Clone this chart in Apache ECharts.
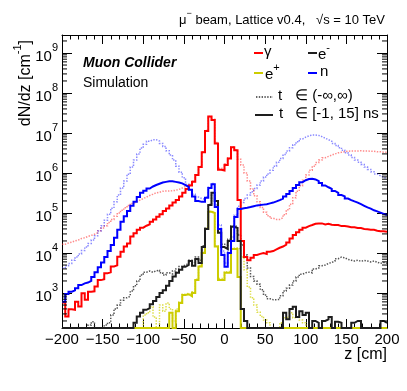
<!DOCTYPE html>
<html><head><meta charset="utf-8">
<script src="https://cdn.jsdelivr.net/npm/echarts@6/dist/echarts.min.js"></script>
<style>html,body{margin:0;padding:0;background:#fff}#c{width:407px;height:391px}</style>
</head><body><div id="c"></div>
<script>
// ---- axis setup ----
const Z_MIN = -200, Z_MAX = 200, BIN_WIDTH = 4;
const Y_MIN = 133.35, Y_MAX = 2.818e9;
const xTickInterval = 50;

// ---- data: dN/dz per 4 cm bin, bins from z=-200 to z=200 (0 = empty bin) ----
const gammaInTime = [
 5.8e2,2.6e2,3.9e2,3.8e2,6.0e2,4.6e2,9.8e2,6.8e2,1.07e3,1.1e3,
 1.45e3,2.1e3,2.2e3,3.1e3,3.3e3,4.6e3,4.9e3,8.1e3,1.07e4,1.45e4,
 1.74e4,2.6e4,3.1e4,3.8e4,4.3e4,4.8e4,5.2e4,6.0e4,6.9e4,8.1e4,
 9.3e4,1.12e5,1.29e5,1.55e5,1.82e5,2.1e5,2.6e5,3.2e5,4.0e5,4.9e5,
 6.0e5,8.9e5,1.41e6,3.3e6,1.12e7,2.6e7,2.1e7,5.5e6,1.2e6,1.15e6,
 1.58e6,2.3e6,4.4e6,3.7e6,2.1e5,2.0e4,7.9e3,6.6e3,7.6e3,8.9e3,
 9.5e3,1.0e4,9.5e3,1.07e4,1.12e4,1.23e4,1.35e4,1.45e4,1.62e4,1.82e4,
 2.3e4,2.8e4,3.3e4,3.8e4,4.3e4,4.7e4,5.0e4,5.4e4,5.5e4,5.5e4,
 5.2e4,5.4e4,5.1e4,5.0e4,5.0e4,4.7e4,4.7e4,4.6e4,4.4e4,4.4e4,
 4.2e4,4.2e4,4.0e4,3.9e4,3.8e4,3.8e4,3.6e4,3.5e4,3.5e4,3.4e4];
const gammaAll = [
 1.66e4,1.78e4,1.86e4,2.0e4,2.1e4,2.3e4,2.4e4,2.6e4,2.75e4,2.95e4,
 3.2e4,3.6e4,4.2e4,4.8e4,5.8e4,6.9e4,8.3e4,1.0e5,1.17e5,1.35e5,
 1.55e5,1.74e5,1.9e5,2.1e5,2.3e5,2.5e5,2.75e5,2.95e5,3.2e5,3.3e5,
 3.5e5,3.55e5,3.55e5,3.6e5,3.7e5,3.9e5,4.2e5,4.6e5,5.0e5,5.5e5,
 6.3e5,9.1e5,1.45e6,3.4e6,1.15e7,2.6e7,2.2e7,5.8e6,1.32e6,1.26e6,
 1.7e6,2.4e6,4.5e6,3.8e6,2.2e6,1.58e6,1.0e6,6.3e5,4.0e5,2.7e5,
 1.9e5,1.38e5,1.05e5,8.5e4,7.4e4,6.9e4,6.9e4,7.6e4,9.1e4,1.2e5,
 1.66e5,2.4e5,3.5e5,4.8e5,6.6e5,8.9e5,1.17e6,1.48e6,1.82e6,2.1e6,
 2.4e6,2.6e6,2.8e6,3.0e6,3.2e6,3.3e6,3.4e6,3.5e6,3.55e6,3.55e6,
 3.55e6,3.6e6,3.55e6,3.55e6,3.5e6,3.5e6,3.4e6,3.4e6,3.3e6,3.3e6];
const nInTime = [
 6.0e2,9.5e2,1.07e3,1.17e3,1.32e3,1.58e3,1.74e3,1.82e3,2.0e3,2.5e3,
 3.3e3,4.4e3,5.8e3,7.9e3,1.12e4,1.58e4,2.4e4,3.8e4,6.0e4,8.3e4,
 1.12e5,1.51e5,1.9e5,2.5e5,3.2e5,3.6e5,4.1e5,4.6e5,5.0e5,5.4e5,
 5.8e5,6.0e5,6.2e5,6.2e5,6.0e5,5.8e5,5.5e5,5.0e5,4.5e5,3.8e5,
 2.6e5,2.0e5,1.9e5,1.9e5,2.4e5,4.2e5,5.2e5,1.41e5,4.0e4,8.9e3,
 4.5e3,1.0e4,2.0e4,7.9e4,1.26e5,1.32e5,1.35e5,1.41e5,1.48e5,1.55e5,
 1.58e5,1.62e5,1.66e5,1.74e5,1.82e5,1.95e5,2.1e5,2.3e5,2.6e5,3.0e5,
 3.55e5,4.2e5,5.0e5,5.9e5,6.6e5,7.1e5,7.2e5,6.9e5,6.3e5,5.6e5,
 4.9e5,4.4e5,4.0e5,3.55e5,3.2e5,2.8e5,2.6e5,2.3e5,2.1e5,1.95e5,
 1.82e5,1.66e5,1.51e5,1.38e5,1.29e5,1.17e5,1.1e5,1.02e5,9.5e4,8.9e4];
const nAll = [
 4.2e3,4.8e3,5.5e3,6.6e3,7.9e3,9.5e3,1.15e4,1.41e4,1.74e4,2.1e4,
 2.7e4,3.55e4,4.8e4,6.6e4,9.3e4,1.32e5,1.9e5,2.8e5,4.2e5,6.3e5,
 9.3e5,1.41e6,2.1e6,3.0e6,4.2e6,5.2e6,6.2e6,6.8e6,6.8e6,6.3e6,
 5.5e6,4.6e6,3.6e6,2.8e6,2.1e6,1.48e6,1.05e6,7.6e5,5.2e5,3.8e5,
 2.95e5,2.5e5,2.3e5,2.2e5,2.5e5,4.4e5,5.5e5,1.58e5,5.0e4,1.12e4,
 5.6e3,1.26e4,2.5e4,8.9e4,1.48e5,1.82e5,2.3e5,2.8e5,3.4e5,4.1e5,
 5.0e5,6.3e5,7.9e5,9.5e5,1.17e6,1.48e6,1.86e6,2.3e6,2.9e6,3.55e6,
 4.3e6,5.1e6,6.0e6,7.1e6,7.9e6,8.5e6,8.9e6,8.9e6,8.7e6,8.1e6,
 7.4e6,6.8e6,6.2e6,5.5e6,4.9e6,4.3e6,3.7e6,3.2e6,2.8e6,2.45e6,
 2.1e6,1.86e6,1.62e6,1.41e6,1.23e6,1.07e6,9.5e5,8.5e5,7.8e5,7.2e5];
const eMinusInTime = [
 0,0,0,0,0,0,0,0,0,0,
 0,0,0,0,0,0,0,0,0,0,
 0,0,1.8e2,2.6e2,3.2e2,3.8e2,4.2e2,5.2e2,6.3e2,7.9e2,
 1.0e3,1.17e3,1.51e3,2.0e3,2.6e3,3.2e3,3.8e3,4.5e3,5.0e3,6.3e3,
 4.8e3,7.1e3,5.6e3,1.41e4,4.0e4,1.58e5,3.2e5,2.0e5,3.2e4,1.41e4,
 1.26e4,2.0e4,4.5e4,4.2e4,2.0e4,4.0e2,2.0e2,0,0,0,
 0,0,0,0,0,0,0,0,3.2e2,2.2e2,
 4.0e2,4.5e2,2.5e2,3.5e2,2.8e2,3.2e2,0,2.0e2,1.8e2,0,
 2.0e2,2.2e2,2.5e2,0,1.9e2,1.8e2,0,0,0,1.8e2,
 2.0e2,2.0e2,0,0,0,0,0,0,2.0e2,1.8e2];
const eMinusAll = [
 0,0,0,0,0,0,0,0,1.58e2,1.9e2,
 0,0,0,1.58e2,1.8e2,2.8e2,4.0e2,5.0e2,6.6e2,7.6e2,
 8.3e2,1.12e3,1.51e3,2.0e3,2.8e3,3.3e3,3.55e3,3.3e3,3.6e3,3.7e3,
 3.2e3,2.8e3,3.2e3,3.0e3,3.55e3,4.0e3,4.6e3,5.0e3,5.5e3,6.6e3,
 5.8e3,7.9e3,6.6e3,1.51e4,4.2e4,1.62e5,3.2e5,2.0e5,3.55e4,1.66e4,
 1.58e4,2.2e4,4.8e4,4.6e4,2.8e4,1.58e4,8.9e3,4.2e3,2.6e3,2.0e3,
 1.66e3,1.2e3,8.9e2,7.2e2,6.8e2,6.8e2,6.9e2,8.5e2,1.12e3,1.32e3,
 1.58e3,2.0e3,2.5e3,2.95e3,3.2e3,3.3e3,3.2e3,4.0e3,4.2e3,4.8e3,
 5.0e3,5.5e3,5.8e3,6.3e3,7.2e3,7.9e3,7.6e3,6.9e3,6.6e3,6.3e3,
 6.6e3,6.2e3,6.5e3,6.3e3,6.0e3,6.3e3,5.9e3,5.5e3,5.8e3,5.5e3];
const ePlusInTime = [
 0,0,0,0,0,0,0,0,0,0,
 0,0,0,0,0,0,0,0,0,0,
 0,0,0,0,0,0,0,0,0,0,
 0,0,0,3.2e2,0,3.5e2,5.6e2,8.9e2,9.3e2,8.3e2,
 1.0e3,2.1e3,4.6e3,1.0e4,4.0e4,1.07e5,1.0e5,1.45e4,2.1e3,2.1e3,
 3.2e3,3.2e3,1.26e4,1.26e4,2.5e3,0,0,0,0,0,
 0,0,0,0,0,0,0,0,0,0,
 0,0,0,0,0,0,0,0,0,0,
 0,0,0,0,0,0,0,0,0,0,
 0,0,0,0,0,0,0,0,0,0];
const ePlusAll = [
 0,0,0,0,0,0,0,0,0,0,
 0,0,0,0,0,0,0,0,0,0,
 0,0,0,0,0,2.8e2,3.2e2,4.5e2,2.5e2,0,
 5.0e2,3.5e2,5.6e2,4.0e2,2.0e2,4.0e2,6.0e2,9.3e2,9.8e2,8.9e2,
 1.07e3,2.2e3,4.8e3,1.05e4,4.2e4,1.1e5,1.02e5,1.51e4,2.3e3,2.3e3,
 3.4e3,3.5e3,1.32e4,1.35e4,1.26e4,7.9e3,3.8e3,1.41e3,7.6e2,5.0e2,
 3.3e2,2.6e2,2.1e2,1.8e2,0,0,0,1.8e2,2.4e2,2.5e2,
 3.2e2,2.4e2,2.6e2,2.1e2,1.8e2,1.58e2,0,0,0,0,
 0,0,0,0,0,0,0,0,0,0,
 0,0,0,0,0,0,0,0,0,0];

const F = '"Liberation Sans", Arial, Helvetica, sans-serif';

function stepData(vals) {
  const d = vals.map((v, i) => [Z_MIN + i * BIN_WIDTH, v > 0 ? v : Y_MIN]);
  d.push([Z_MAX, d[d.length - 1][1]]);
  return d;
}
function hist(name, vals, color, width, dotted, z) {
  return {
    type: 'line', name, data: stepData(vals), step: 'end', symbol: 'none', showSymbol: false,
    animation: false, clip: true, silent: true, z, emphasis: { disabled: true },
    lineStyle: { color, width, type: dotted ? [1.4, 1.4] : 'solid', cap: 'butt', join: 'miter' }
  };
}

// minor ticks for the log axis (2..9 x 10^k)
const yMinorTicks = [];
for (let e = 2; e <= 9; e++) for (let m = 2; m <= 9; m++) {
  const v = m * Math.pow(10, e);
  if (v > Y_MIN && v < Y_MAX) yMinorTicks.push([0, v]);
}

const chart = echarts.init(document.getElementById('c'), null, { renderer: 'canvas' });

const xBase = {
  type: 'value', min: Z_MIN, max: Z_MAX, interval: xTickInterval,
  axisLine: { show: true, onZero: false, lineStyle: { color: '#000', width: 1 } },
  axisTick: { show: true, inside: true, length: 9, lineStyle: { color: '#000' } },
  minorTick: { show: true, splitNumber: 5, length: 4.5, lineStyle: { color: '#000' } },
  splitLine: { show: false }, minorSplitLine: { show: false }
};
const yBase = {
  type: 'log', logBase: 10, min: Y_MIN, max: Y_MAX, splitNumber: 10,
  axisLine: { show: true, onZero: false, lineStyle: { color: '#000', width: 1 } },
  axisTick: { show: true, inside: true, length: 10, lineStyle: { color: '#000' } },
  splitLine: { show: false }
};

chart.setOption({
  animation: false,
  backgroundColor: '#fff',
  grid: { left: 62, top: 35, width: 325, height: 293, containLabel: false, outerBoundsMode: 'none' },
  xAxis: [
    Object.assign({}, xBase, {
      position: 'bottom',
      axisLabel: { show: true, margin: 4, fontFamily: F, fontSize: 15, color: '#000',
        formatter: v => String(v).replace('-', '\u2212') }
    }),
    Object.assign({}, xBase, { position: 'top', axisLabel: { show: false } })
  ],
  yAxis: [
    Object.assign({}, yBase, {
      position: 'left',
      axisLabel: {
        show: true, margin: 4, showMinLabel: false, showMaxLabel: false,
        formatter: v => '{b|10}{s|' + Math.round(Math.log10(v)) + '}',
        rich: {
          b: { fontFamily: F, fontSize: 15, color: '#000', lineHeight: 22, verticalAlign: 'bottom' },
          s: { fontFamily: F, fontSize: 11, color: '#000', lineHeight: 12, verticalAlign: 'top' }
        }
      }
    }),
    Object.assign({}, yBase, { position: 'right', axisLabel: { show: false } })
  ],
  series: [
    hist('gamma all', gammaAll, 'rgba(255,40,40,0.55)', 1.5, true, 2),
    hist('e- all', eMinusAll, 'rgba(40,40,40,0.8)', 1.5, true, 2),
    hist('e+ all', ePlusAll, 'rgba(215,215,40,0.85)', 1.5, true, 2),
    hist('n all', nAll, 'rgba(40,40,255,0.55)', 1.5, true, 2),
    hist('gamma', gammaInTime, '#ff0000', 2, false, 3),
    hist('e+', ePlusInTime, '#cccc00', 2, false, 3),
    hist('e-', eMinusInTime, '#1e1e1e', 2, false, 3),
    hist('n', nInTime, '#0000ff', 2, false, 3),
    {
      type: 'custom', silent: true, z: 5, data: yMinorTicks, encode: { x: 0, y: 1 },
      renderItem: (params, api) => {
        const v = api.value(1);
        const pL = api.coord([Z_MIN, v]);
        const pR = api.coord([Z_MAX, v]);
        return { type: 'group', children: [
          { type: 'line', shape: { x1: pL[0], y1: pL[1], x2: pL[0] + 5, y2: pL[1] }, style: { stroke: '#000', lineWidth: 1 } },
          { type: 'line', shape: { x1: pR[0] - 5, y1: pR[1], x2: pR[0], y2: pR[1] }, style: { stroke: '#000', lineWidth: 1 } }
        ]};
      }
    }
  ],
  graphic: [
    // header
    { type: 'text', x: 385, y: 18, style: {
      text: '{a|\u03bc}{s|\u2212}{a| beam, Lattice v0.4,   \u221As = 10 TeV}', align: 'right', verticalAlign: 'middle',
      rich: { a: { fontFamily: F, fontSize: 13, fill: '#000', lineHeight: 18, verticalAlign: 'bottom' },
              s: { fontFamily: F, fontSize: 9, fill: '#000', lineHeight: 11, verticalAlign: 'top' } } } },
    // y title
    { type: 'text', x: 23, y: 40, rotation: Math.PI / 2, style: {
      text: '{a|dN/dz [cm}{s|-1}{a|]}', align: 'right', verticalAlign: 'middle',
      rich: { a: { fontFamily: F, fontSize: 16, fill: '#000', lineHeight: 22, verticalAlign: 'bottom' },
              s: { fontFamily: F, fontSize: 11, fill: '#000', lineHeight: 12, verticalAlign: 'top' } } } },
    // x title
    { type: 'text', x: 387, y: 355, style: { text: 'z [cm]', align: 'right', verticalAlign: 'middle', fontFamily: F, fontSize: 16, fill: '#000' } },
    // labels
    { type: 'text', x: 83, y: 63, style: { text: 'Muon Collider', verticalAlign: 'middle', fontFamily: F, fontSize: 14, fontWeight: 'bold', fontStyle: 'italic', fill: '#000' } },
    { type: 'text', x: 83, y: 83, style: { text: 'Simulation', verticalAlign: 'middle', fontFamily: F, fontSize: 14, fill: '#000' } },
    // legend
    { type: 'line', shape: { x1: 254, y1: 53, x2: 263, y2: 53 }, style: { stroke: '#ff0000', lineWidth: 2 } },
    { type: 'text', x: 264, y: 52, style: { text: '\u03b3', verticalAlign: 'middle', fontFamily: F, fontSize: 15, fill: '#000' } },
    { type: 'line', shape: { x1: 308, y1: 53, x2: 317, y2: 53 }, style: { stroke: '#1e1e1e', lineWidth: 2 } },
    { type: 'text', x: 318, y: 52, style: { text: '{a|e}{s|-}', verticalAlign: 'middle',
      rich: { a: { fontFamily: F, fontSize: 15, fill: '#000', lineHeight: 20, verticalAlign: 'bottom' },
              s: { fontFamily: F, fontSize: 11, fill: '#000', lineHeight: 12, verticalAlign: 'top' } } } },
    { type: 'line', shape: { x1: 254, y1: 73, x2: 263, y2: 73 }, style: { stroke: '#cccc00', lineWidth: 2 } },
    { type: 'text', x: 265, y: 72, style: { text: '{a|e}{s|+}', verticalAlign: 'middle',
      rich: { a: { fontFamily: F, fontSize: 15, fill: '#000', lineHeight: 20, verticalAlign: 'bottom' },
              s: { fontFamily: F, fontSize: 11, fill: '#000', lineHeight: 12, verticalAlign: 'top' } } } },
    { type: 'line', shape: { x1: 308, y1: 73, x2: 317, y2: 73 }, style: { stroke: '#0000ff', lineWidth: 2 } },
    { type: 'text', x: 320, y: 72, style: { text: 'n', verticalAlign: 'middle', fontFamily: F, fontSize: 15, fill: '#000' } },
    { type: 'line', shape: { x1: 256, y1: 97, x2: 273, y2: 97 }, style: { stroke: '#333', lineWidth: 1.5, lineDash: [1.4, 1.4] } },
    { type: 'text', x: 278, y: 96, style: { text: 't', verticalAlign: 'middle', fontFamily: F, fontSize: 15, fill: '#000' } },
    { type: 'text', x: 295, y: 96, style: { text: '\u2208 (-\u221e,\u221e)', verticalAlign: 'middle', fontFamily: F, fontSize: 15, fill: '#000' } },
    { type: 'line', shape: { x1: 255, y1: 115, x2: 273, y2: 115 }, style: { stroke: '#1e1e1e', lineWidth: 2 } },
    { type: 'text', x: 279, y: 114, style: { text: 't', verticalAlign: 'middle', fontFamily: F, fontSize: 15, fill: '#000' } },
    { type: 'text', x: 295, y: 114, style: { text: '\u2208 [-1, 15] ns', verticalAlign: 'middle', fontFamily: F, fontSize: 15, fill: '#000' } }
  ]
});
</script>
</body></html>
